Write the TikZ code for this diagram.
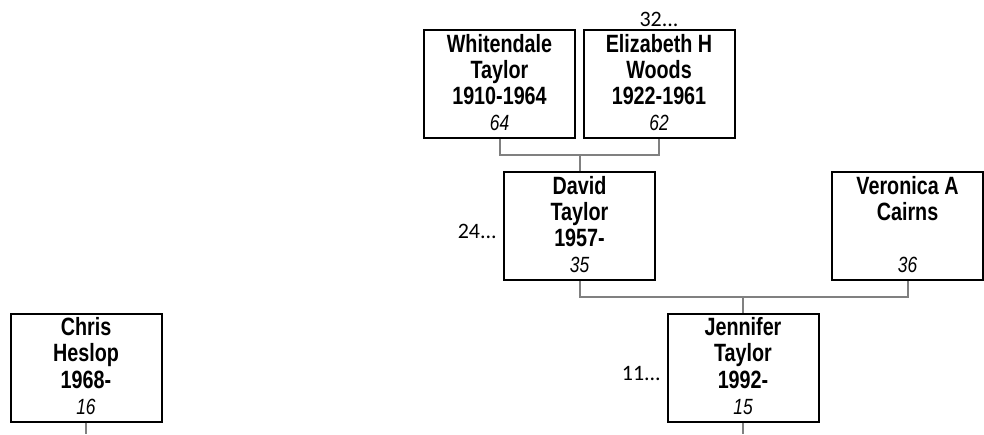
\documentclass[tikz,border=0pt]{standalone}
\usepackage{fontspec}
\newfontfamily\namefont[FakeStretch=0.79]{Liberation Sans}
\newfontfamily\reffont{Carlito}
\usetikzlibrary{calc}
\newcommand\pcard[4]{\vtop{\namefont\fontsize{25}{26.3}\selectfont\bfseries
  \baselineskip=26.3pt\lineskiplimit=-20pt
  \halign{\hfil##\hfil\cr #1\cr #2\cr #3\cr
  {\mdseries\itshape\fontsize{22}{22}\selectfont #4}\cr}}}
\tikzset{
  person/.style={draw=black, line width=2pt, minimum width=151pt, minimum height=108pt, inner sep=0pt},
  ptext/.style={anchor=base, inner sep=0pt},
  conn/.style={draw=black!50, line width=2pt},
  more/.style={inner sep=0pt, font=\reffont\fontsize{22}{22}\selectfont}
}
\begin{document}
\begin{tikzpicture}[x=1pt,y=-1pt]
\useasboundingbox (0,0) rectangle (984,434);
% boxes
\node[person] (w) at (499.5,84) {};
\node[person] (e) at (659,84) {};
\node[person] (d) at (579.5,226) {};
\node[person] (v) at (907.5,226) {};
\node[person] (j) at (743,367.5) {};
\node[person] (c) at (86,367.5) {};
% texts
\node[ptext] (wt) at ($(w.north)+(0,23)$) {\pcard{Whitendale}{Taylor}{1910-1964}{64}};
\node[ptext] (et) at ($(e.north)+(0,23)$) {\pcard{Elizabeth H}{Woods}{1922-1961}{62}};
\node[ptext] (dt) at ($(d.north)+(0,23)$) {\pcard{David}{Taylor}{1957-}{35}};
\node[ptext] (vt) at ($(v.north)+(0,23)$) {\pcard{Veronica A}{Cairns}{}{36}};
\node[ptext] (jt) at ($(j.north)+(0,23)$) {\pcard{Jennifer}{Taylor}{1992-}{15}};
\node[ptext] (ct) at ($(c.north)+(0,23)$) {\pcard{Chris}{Heslop}{1968-}{16}};
% more markers
\node[more, anchor=base] (m32) at (659,26) {32...};
\node[more, anchor=base east] (m24) at (497,238) {24...};
\node[more, anchor=base east] (m11) at (661,380) {11...};
% connectors
\coordinate (j1) at (579.5,155);
\coordinate (j2) at (743,297);
\coordinate (jend) at (743,434);
\coordinate (cend) at (86,434);
\draw[conn] (w.south) |- (j1) -| (e.south);
\draw[conn] (j1) -- (d.north);
\draw[conn] (d.south) |- (j2) -| (v.south);
\draw[conn] (j2) -- (j.north);
\draw[conn] (j.south) -- (jend);
\draw[conn] (c.south) -- (cend);
\end{tikzpicture}
\end{document}
